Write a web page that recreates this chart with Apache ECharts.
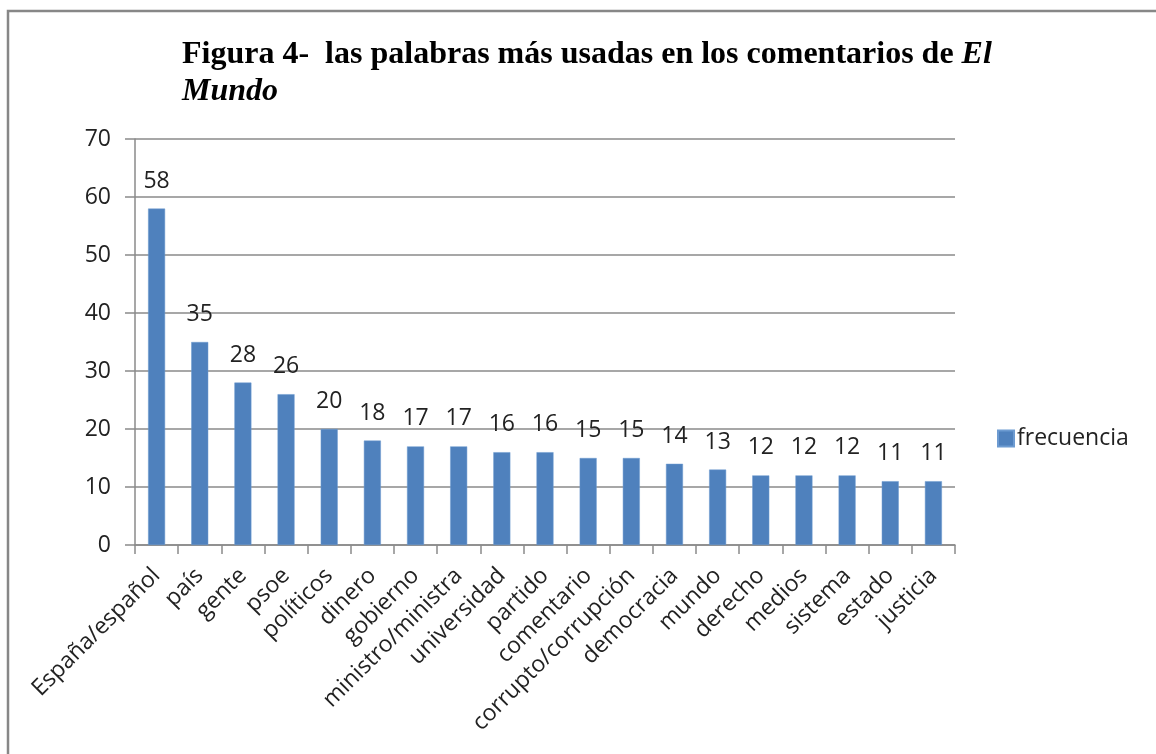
<!DOCTYPE html>
<html>
<head>
<meta charset="utf-8">
<script src="https://cdn.jsdelivr.net/npm/echarts@6/dist/echarts.min.js"></script>
<style>
html,body{margin:0;padding:0;background:#fff;}
#chart{width:1156px;height:754px;}
</style>
</head>
<body>
<div id="chart"></div>
<script>
const categories = ['España/español','país','gente','psoe','políticos','dinero','gobierno','ministro/ministra','universidad','partido','comentario','corrupto/corrupción','democracia','mundo','derecho','medios','sistema','estado','justicia'];
const frecuencia = [58,35,28,26,20,18,17,17,16,16,15,15,14,13,12,12,12,11,11];
const yTicks = {min:0, max:70, interval:10};
const seriesName = 'frecuencia';

const labelFont = 'Open Sans';
const labelSize = 23;
const chart = echarts.init(document.getElementById('chart'));
chart.setOption({
  backgroundColor:'#fff',
  animation:false,
  title:{
    text:'{b|Figura 4-  las palabras más usadas en los comentarios de }{i|El}\n{i|Mundo}',
    left:177, top:31,
    textStyle:{
      rich:{
        b:{fontFamily:'Liberation Serif',fontWeight:'bold',fontSize:32,color:'#000',lineHeight:37},
        i:{fontFamily:'Liberation Serif',fontStyle:'italic',fontSize:32,color:'#000',lineHeight:37}
      }
    }
  },
  graphic:[{
    type:'rect', silent:true,
    shape:{x:8,y:11,width:1300,height:900},
    style:{fill:'none',stroke:'#878787',lineWidth:2.5}
  }],
  legend:{
    data:[seriesName],
    left:997, top:427, padding:0,
    itemWidth:16, itemHeight:16, itemGap:6,
    icon:'rect',
    textStyle:{fontFamily:labelFont,fontSize:labelSize,color:'#222',padding:[0,0,0,-2]}
  },
  grid:{left:135,right:201,top:139,bottom:209,containLabel:false},
  xAxis:{
    type:'category',
    data:categories,
    boundaryGap:true,
    axisLine:{lineStyle:{color:'#8a8a8a',width:1.5}},
    axisTick:{show:true,alignWithLabel:false,length:9,lineStyle:{color:'#8a8a8a',width:1.5}},
    axisLabel:{rotate:45,interval:0,margin:27,fontFamily:labelFont,fontSize:labelSize,color:'#222'}
  },
  yAxis:{
    type:'value',
    min:yTicks.min,max:yTicks.max,interval:yTicks.interval,
    axisLine:{show:true,lineStyle:{color:'#8a8a8a',width:1.5}},
    axisTick:{show:true,inside:false,length:10,lineStyle:{color:'#8a8a8a',width:1.5}},
    splitLine:{show:true,lineStyle:{color:'#8a8a8a',width:1.5}},
    axisLabel:{margin:24,fontFamily:labelFont,fontSize:labelSize,color:'#222'}
  },
  series:[{
    name:seriesName,
    type:'bar',
    data:frecuencia,
    barWidth:17,
    itemStyle:{color:'#4F81BD',borderColor:'#6d9bd1',borderWidth:0.5},
    label:{show:true,position:'top',distance:16,fontFamily:labelFont,fontSize:labelSize,color:'#222'}
  }]
});
</script>
</body>
</html>
